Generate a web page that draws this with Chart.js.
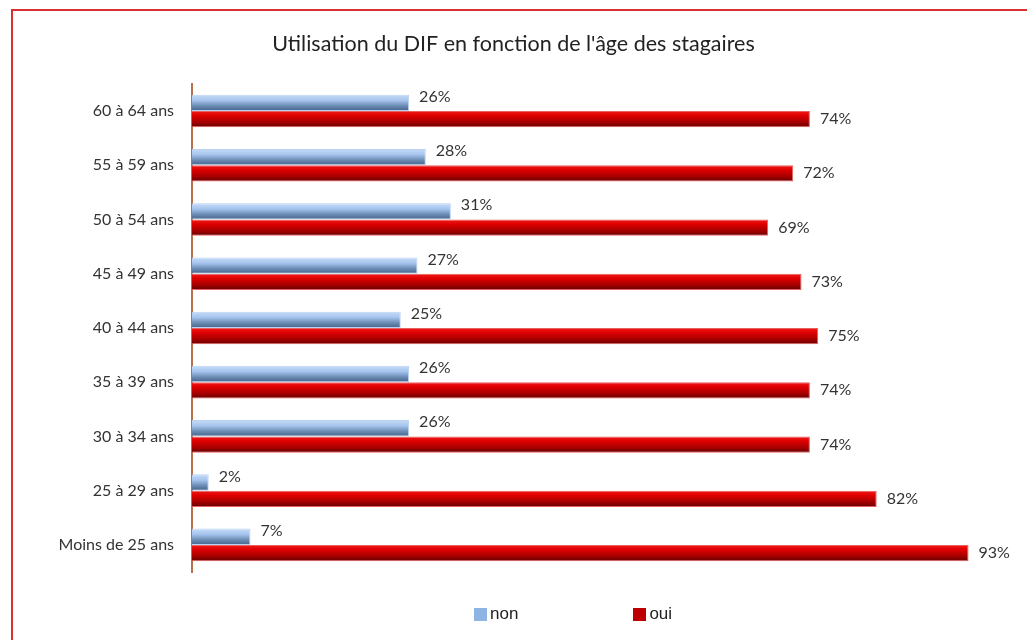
<!DOCTYPE html>
<html lang="fr">
<head>
<meta charset="utf-8">
<title>Utilisation du DIF</title>
<script src="https://cdn.jsdelivr.net/npm/chart.js@4/dist/chart.umd.min.js"></script>
<style>
  html, body { margin: 0; padding: 0; background: #fff; overflow: hidden; }
  .frame {
    position: absolute; left: 11px; top: 9px; width: 1100px; height: 700px;
    border-top: 2px solid #d93030; border-left: 2px solid #d93030;
  }
  .chart-container { position: absolute; left: 0; top: 0; width: 1027px; height: 640px; }
  #legend {
    position: absolute; left: 474px; top: 604px;
    display: flex; gap: 115px; font-family: "Liberation Sans", Arial, sans-serif;
    font-size: 17px; color: #222;
  }
  #legend span.item { display: flex; align-items: center; }
  #legend span.box { width: 13px; height: 13px; margin-right: 3px; display: inline-block; }
</style>
</head>
<body>
<div class="frame"></div>
<div class="chart-container">
  <canvas id="difChart" width="1027" height="640"></canvas>
</div>
<div id="legend"></div>
<script type="text/javascript">
  var categories = ["60 à 64 ans", "55 à 59 ans", "50 à 54 ans", "45 à 49 ans", "40 à 44 ans",
                    "35 à 39 ans", "30 à 34 ans", "25 à 29 ans", "Moins de 25 ans"];
  var nonValues = [26, 28, 31, 27, 25, 26, 26, 2, 7];
  var ouiValues = [74, 72, 69, 73, 75, 74, 74, 82, 93];

  var CAT_PCT = 0.6;
  var labelFont = "Lato, 'Open Sans', sans-serif";

  // vertical shading inside each bar, from the bar's own top to bottom
  function barGradient(stops, flat) {
    return function (c) {
      var chart = c.chart;
      var y = chart.scales.y;
      if (!chart.chartArea || !y || c.dataIndex === undefined) return flat;
      var center = y.getPixelForValue(c.dataIndex);
      var band = (y.bottom - y.top) / categories.length * CAT_PCT;
      var top = center - band / 2 + c.datasetIndex * band / 2;
      var g = chart.ctx.createLinearGradient(0, top, 0, top + band / 2);
      stops.forEach(function (s) { g.addColorStop(s[0], s[1]); });
      return g;
    };
  }

  // percentage next to the end of each bar
  var valueLabels = {
    id: "valueLabels",
    afterDatasetsDraw: function (chart) {
      var ctx = chart.ctx;
      ctx.save();
      ctx.font = "16px " + labelFont;
      ctx.fillStyle = "#333";
      ctx.textBaseline = "middle";
      chart.data.datasets.forEach(function (ds, di) {
        chart.getDatasetMeta(di).data.forEach(function (bar, i) {
          var dy = di === 0 ? -6 : 0;
          ctx.fillText(ds.data[i] + "%", bar.x + 10, bar.y + dy);
        });
      });
      ctx.restore();
    }
  };

  var chart = new Chart("difChart", {
    type: "bar",
    data: {
      labels: categories,
      datasets: [
        {
          label: "non",
          data: nonValues,
          legendColor: "#8db4e2",
          backgroundColor: barGradient([[0, "#c8ddf8"], [0.35, "#a6c4ee"], [0.7, "#6a8ab2"], [1, "#46648a"]], "#8db4e2"),
          borderColor: "#b9d2f2",
          borderWidth: 1
        },
        {
          label: "oui",
          data: ouiValues,
          legendColor: "#c00000",
          backgroundColor: barGradient([[0, "#f21a1a"], [0.3, "#de0000"], [0.7, "#a50000"], [1, "#640000"]], "#c00000"),
          borderColor: "#e86060",
          borderWidth: 1
        }
      ]
    },
    plugins: [valueLabels],
    options: {
      indexAxis: "y",
      responsive: false,
      animation: false,
      categoryPercentage: CAT_PCT,
      barPercentage: 1,
      layout: { padding: { top: 10, bottom: 68, left: 0, right: 0 } },
      plugins: {
        legend: { display: false },
        tooltip: { enabled: false },
        title: {
          display: true,
          text: "Utilisation du DIF en fonction de l'âge des stagaires",
          color: "#222",
          font: { family: labelFont, size: 21.5, weight: "normal", lineHeight: 1.2 },
          padding: { top: 21, bottom: 27 }
        }
      },
      scales: {
        x: { display: false, min: 0, max: 100 },
        y: {
          grid: { display: false },
          border: { display: true, color: "#b8704a", width: 2 },
          ticks: { color: "#333", padding: 10, font: { family: labelFont, size: 16 } },
          afterFit: function (scale) { scale.width = 192; }
        }
      }
    }
  });

  // legend built from the datasets
  var legendEl = document.getElementById("legend");
  chart.data.datasets.forEach(function (ds) {
    var item = document.createElement("span");
    item.className = "item";
    var box = document.createElement("span");
    box.className = "box";
    box.style.background = ds.legendColor;
    item.appendChild(box);
    item.appendChild(document.createTextNode(ds.label));
    legendEl.appendChild(item);
  });
</script>
</body>
</html>
